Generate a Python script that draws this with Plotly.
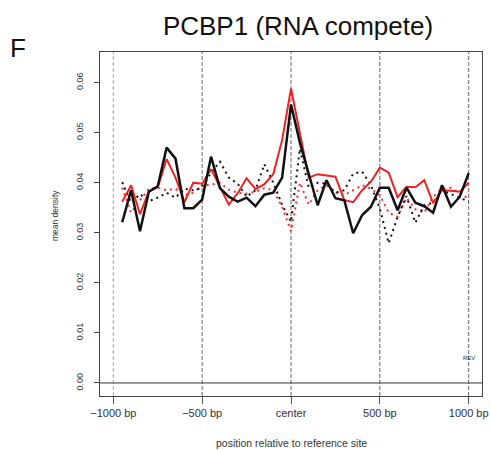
import plotly.graph_objects as go

positions = [-950, -900, -850, -800, -750, -700, -650, -600, -550, -500,
             -450, -400, -350, -300, -250, -200, -150, -100, -50, 0,
             50, 100, 150, 200, 250, 300, 350, 400, 450, 500,
             550, 600, 650, 700, 750, 800, 850, 900, 950, 1000]

black_solid = [0.0321, 0.0385, 0.0303, 0.0382, 0.0393, 0.0470, 0.0448, 0.0349, 0.0349, 0.0366,
               0.0452, 0.0389, 0.0372, 0.0362, 0.0370, 0.0353, 0.0376, 0.0380, 0.0410, 0.0556,
               0.0480, 0.0415, 0.0355, 0.0405, 0.0369, 0.0365, 0.0299, 0.0335, 0.0352, 0.0390,
               0.0390, 0.0345, 0.0390, 0.0360, 0.0353, 0.0340, 0.0395, 0.0352, 0.0372, 0.0419]

red_solid = [0.0362, 0.0395, 0.0337, 0.0383, 0.0391, 0.0447, 0.0410, 0.0361, 0.0400, 0.0398,
             0.0427, 0.0390, 0.0356, 0.0379, 0.0409, 0.0387, 0.0397, 0.0417, 0.0485, 0.0588,
             0.0500, 0.0410, 0.0417, 0.0415, 0.0412, 0.0365, 0.0361, 0.0385, 0.0402, 0.0430,
             0.0420, 0.0371, 0.0392, 0.0391, 0.0405, 0.0359, 0.0385, 0.0384, 0.0382, 0.0400]

black_dotted = [0.0401, 0.0360, 0.0377, 0.0363, 0.0370, 0.0380, 0.0370, 0.0388, 0.0385, 0.0390,
                0.0420, 0.0442, 0.0410, 0.0398, 0.0372, 0.0385, 0.0437, 0.0400, 0.0356, 0.0322,
                0.0468, 0.0390, 0.0400, 0.0398, 0.0380, 0.0385, 0.0418, 0.0422, 0.0395, 0.0348,
                0.0279, 0.0332, 0.0373, 0.0320, 0.0355, 0.0360, 0.0385, 0.0378, 0.0370, 0.0362]

red_dotted = [0.0390, 0.0340, 0.0365, 0.0388, 0.0390, 0.0385, 0.0388, 0.0375, 0.0380, 0.0395,
              0.0396, 0.0400, 0.0386, 0.0380, 0.0378, 0.0382, 0.0389, 0.0385, 0.0352, 0.0303,
              0.0400, 0.0356, 0.0385, 0.0395, 0.0380, 0.0375, 0.0385, 0.0395, 0.0388, 0.0375,
              0.0340, 0.0332, 0.0370, 0.0347, 0.0340, 0.0372, 0.0388, 0.0390, 0.0378, 0.0368]

x_tick_vals = [-1000, -500, 0, 500, 1000]
x_tick_text = ["\u22121000 bp", "\u2212500 bp", "center", "500 bp", "1000 bp"]
y_tick_vals = [0.00, 0.01, 0.02, 0.03, 0.04, 0.05, 0.06]
y_tick_text = ["0.00", "0.01", "0.02", "0.03", "0.04", "0.05", "0.06"]
guide_positions = [-1000, -500, 0, 500, 1000]
guide_colors = ["#aaaaaa", "#666666", "#666666", "#666666", "#666666"]

FONT = "Liberation Sans, Arial, sans-serif"

fig = go.Figure()
fig.add_trace(go.Scatter(x=positions, y=red_dotted, mode="lines",
                         line=dict(color="#ff2a2a", width=2, dash="2px,4px"), showlegend=False))
fig.add_trace(go.Scatter(x=positions, y=black_dotted, mode="lines",
                         line=dict(color="#111111", width=2, dash="2px,4px"), showlegend=False))
fig.add_trace(go.Scatter(x=positions, y=red_solid, mode="lines",
                         line=dict(color="#ee2222", width=2), showlegend=False))
fig.add_trace(go.Scatter(x=positions, y=black_solid, mode="lines",
                         line=dict(color="#111111", width=2.5), showlegend=False))

shapes = []
for gx, gc in zip(guide_positions, guide_colors):
    shapes.append(dict(type="line", xref="x", yref="paper", x0=gx, x1=gx, y0=0, y1=1,
                       line=dict(color=gc, width=1, dash="4px,2px"), layer="below"))
shapes.append(dict(type="line", xref="paper", yref="y", x0=0, x1=1, y0=0, y1=0,
                   line=dict(color="#3a3a3a", width=1), layer="below"))

W, H = 491, 450
L, R, T, B = 100, 8.5, 52.3, 54.3

fig.update_layout(
    width=W, height=H,
    margin=dict(l=L, r=R, t=T, b=B, pad=0, autoexpand=False),
    paper_bgcolor="white", plot_bgcolor="white",
    font=dict(family=FONT, color="#222222"),
    shapes=shapes,
    title=dict(text="PCBP1 (RNA compete)", x=298 / W, y=1 - 26 / H,
               xanchor="center", yanchor="middle", xref="container", yref="container",
               font=dict(family=FONT, size=26, color="#111111")),
    xaxis=dict(range=[-1075, 1075], showgrid=False, zeroline=False, automargin=False,
               showline=True, mirror=True, linecolor="#444444", linewidth=1,
               ticks="outside", ticklen=7, tickcolor="#555555", tickwidth=1,
               tickvals=x_tick_vals, ticktext=x_tick_text,
               tickfont=dict(family=FONT, size=11, color="#333333")),
    yaxis=dict(range=[-0.0026, 0.0661], showgrid=False, zeroline=False, automargin=False,
               showline=True, mirror=True, linecolor="#444444", linewidth=1,
               ticks="outside", ticklen=5, tickcolor="#444444", tickwidth=1,
               tickvals=y_tick_vals, ticktext=y_tick_text, tickangle=-90,
               ticklabelstandoff=7,
               tickfont=dict(family=FONT, size=9, color="#333333")),
    annotations=[
        dict(text="F", xref="paper", yref="paper", x=(18 - L) / (W - L - R),
             y=(H - B - 48) / (H - T - B), xanchor="center", yanchor="middle",
             showarrow=False, font=dict(family=FONT, size=26, color="#111111")),
        dict(text="mean density", xref="paper", yref="paper", x=(55 - L) / (W - L - R),
             y=(H - B - 216) / (H - T - B), xanchor="center", yanchor="middle",
             textangle=-90, showarrow=False, font=dict(family=FONT, size=8.5, color="#333333")),
        dict(text="position relative to reference site", xref="paper", yref="paper",
             x=(291.5 - L) / (W - L - R), y=(H - B - 443) / (H - T - B),
             xanchor="center", yanchor="middle", showarrow=False,
             font=dict(family=FONT, size=10.5, color="#333333")),
        dict(text="REV", xref="x", yref="y", x=1000, y=0.0049, xanchor="center",
             yanchor="middle", showarrow=False, font=dict(family=FONT, size=6, color="#333333")),
    ],
)

fig.write_html("out.html")
